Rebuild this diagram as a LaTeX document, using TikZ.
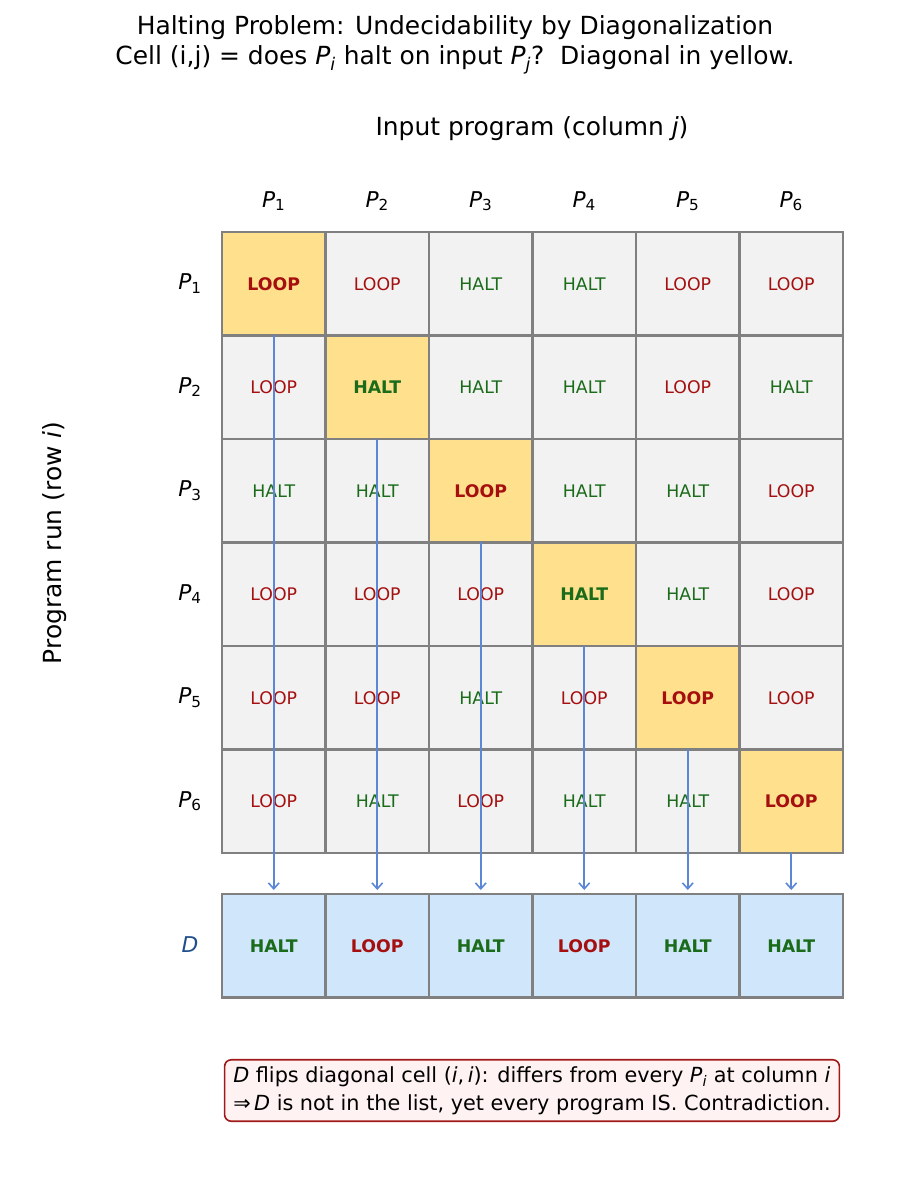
\documentclass[tikz,border=0pt]{standalone}
\usepackage{fontspec}
\setmainfont{DejaVu Sans}
\usetikzlibrary{arrows.meta}
\definecolor{cellgray}{HTML}{F2F2F2}
\definecolor{diagy}{HTML}{FFE08C}
\definecolor{dblue}{HTML}{CFE6FB}
\definecolor{gridc}{HTML}{808080}
\definecolor{loopc}{HTML}{A50F0F}
\definecolor{haltc}{HTML}{1A6B1A}
\definecolor{arrc}{HTML}{5B87D6}
\definecolor{dlab}{HTML}{1F4E8C}
\definecolor{noteb}{HTML}{A01818}
\definecolor{notef}{HTML}{FFF2F2}
\newcommand{\Pv}[1]{\textit{P}\textsubscript{#1}}
\newcommand{\C}[4]{\node[cell,#3] (c-#1-#2) at ({273.75+103.5*(#2-1)},{283.75+103.5*(#1-1)}) {#4};}
\newcommand{\Dc}[3]{\node[cell,dcell,#2] (d-#1) at ({273.75+103.5*(#1-1)},945.75) {#3};}
\tikzset{
  cell/.style={fill=cellgray, minimum width=77.6pt, minimum height=77.6pt, inner sep=0pt, outer sep=0pt, font=\fontsize{13}{15}\selectfont},
  gridline/.style={draw=gridc, line width=1.6pt},
  dcell/.style={fill=dblue, font=\fontsize{13}{15}\selectfont\bfseries},
  lp/.style={text=loopc},
  ht/.style={text=haltc},
  diag/.style={fill=diagy, font=\fontsize{13}{15}\selectfont\bfseries},
  lab/.style={font=\fontsize{18.7}{22.5}\selectfont},
  plab/.style={font=\fontsize{16.3}{19}\selectfont},
  arr/.style={draw=arrc, line width=1.2pt, -{Straight Barb[length=4.5pt,width=8pt]}, shorten >=3pt},
}
\begin{document}
\begin{tikzpicture}[x=0.75pt,y=-0.75pt]
\useasboundingbox (0,0) rectangle (909,1178);
% title
\node[lab, align=center] (title) at (455,45) {Halting Problem: Undecidability by Diagonalization\\
Cell (i,j) = does \Pv{\textit{i}} halt on input \Pv{\textit{j}}?\ \ Diagonal in yellow.};
\node[lab] (xlab) at (532,129) {Input program (column \textit{j})};
\node[lab, rotate=90] (ylab) at (55,543) {Program run (row \textit{i})};
% column and row labels
\foreach \k in {1,...,6} {
  \node[plab] (col-\k) at ({273.75+103.5*(\k-1)},201) {\Pv{\k}};
  \node[plab] (row-\k) at (190,{283.75+103.5*(\k-1)}) {\Pv{\k}};
}
\node[plab, text=dlab] (dlabel) at (190,945) {\textit{D}};
% row 1
\C{1}{1}{lp,diag}{LOOP} \C{1}{2}{lp}{LOOP} \C{1}{3}{ht}{HALT} \C{1}{4}{ht}{HALT} \C{1}{5}{lp}{LOOP} \C{1}{6}{lp}{LOOP}
% row 2
\C{2}{1}{lp}{LOOP} \C{2}{2}{ht,diag}{HALT} \C{2}{3}{ht}{HALT} \C{2}{4}{ht}{HALT} \C{2}{5}{lp}{LOOP} \C{2}{6}{ht}{HALT}
% row 3
\C{3}{1}{ht}{HALT} \C{3}{2}{ht}{HALT} \C{3}{3}{lp,diag}{LOOP} \C{3}{4}{ht}{HALT} \C{3}{5}{ht}{HALT} \C{3}{6}{lp}{LOOP}
% row 4
\C{4}{1}{lp}{LOOP} \C{4}{2}{lp}{LOOP} \C{4}{3}{lp}{LOOP} \C{4}{4}{ht,diag}{HALT} \C{4}{5}{ht}{HALT} \C{4}{6}{lp}{LOOP}
% row 5
\C{5}{1}{lp}{LOOP} \C{5}{2}{lp}{LOOP} \C{5}{3}{ht}{HALT} \C{5}{4}{lp}{LOOP} \C{5}{5}{lp,diag}{LOOP} \C{5}{6}{lp}{LOOP}
% row 6
\C{6}{1}{lp}{LOOP} \C{6}{2}{ht}{HALT} \C{6}{3}{lp}{LOOP} \C{6}{4}{ht}{HALT} \C{6}{5}{ht}{HALT} \C{6}{6}{lp,diag}{LOOP}
% D row
\Dc{1}{ht}{HALT} \Dc{2}{lp}{LOOP} \Dc{3}{ht}{HALT} \Dc{4}{lp}{LOOP} \Dc{5}{ht}{HALT} \Dc{6}{ht}{HALT}
% cell borders
\foreach \i in {1,...,6} {
  \foreach \j in {1,...,6} {
    \draw[gridline] (c-\i-\j.north west) rectangle (c-\i-\j.south east);
  }
  \draw[gridline] (d-\i.north west) rectangle (d-\i.south east);
}
% arrows
\foreach \k in {1,...,6} {
  \draw[arr] (c-\k-\k.south) -- (d-\k.north);
}
% note
\node[draw=noteb, fill=notef, line width=1.2pt, rounded corners=5pt, align=left, inner xsep=6.5pt, inner ysep=5pt,
  font=\fontsize{15.6}{21}\selectfont] (note) at (532,1090.5)
  {\textit{D} flips diagonal cell (\textit{i},\,\textit{i}): differs from every \Pv{\textit{i}} at column \textit{i}\\
  ⇒\,\textit{D} is not in the list, yet every program IS. Contradiction.};
\end{tikzpicture}
\end{document}
